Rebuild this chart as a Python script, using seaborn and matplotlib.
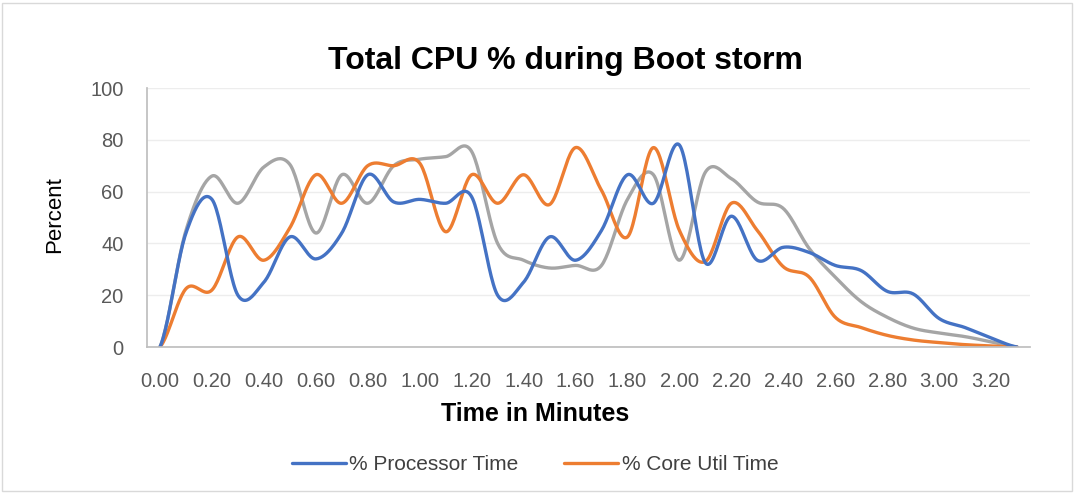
import numpy as np
import pandas as pd
import matplotlib
matplotlib.use("Agg")
import matplotlib.pyplot as plt
from matplotlib.lines import Line2D
from matplotlib.patches import Rectangle
import seaborn as sns

# ---- data ----
time_labels = ["0.00", "0.10", "0.20", "0.30", "0.40", "0.50", "0.60", "0.70", "0.80", "0.90",
               "1.00", "1.10", "1.20", "1.30", "1.40", "1.50", "1.60", "1.70", "1.80", "1.90",
               "2.00", "2.10", "2.20", "2.30", "2.40", "2.50", "2.60", "2.70", "2.80", "2.90",
               "3.00", "3.10", "3.20", "3.30"]
processor_time = [0, 44, 57, 20, 25, 42.5, 34, 44, 66.5, 56, 57, 55.5, 58, 20, 25, 42.5, 33.5,
                  45, 66.5, 55.5, 78, 32.5, 50.5, 33.5, 38.5, 36.5, 31.5, 29.5, 21.5, 20.5,
                  11, 7.5, 3.5, 0]
core_util_time = [0, 22.5, 22, 42.5, 33.5, 46, 66.5, 55.5, 70, 70, 71, 44.5, 66.5, 55.5, 66.5,
                  55, 77, 60.5, 42.5, 77, 45, 33, 55.5, 45, 31, 27, 11.5, 7.5, 4.5, 2.7, 1.7,
                  0.9, 0.4, 0]
third_series = [0, 45, 66, 55.5, 69.5, 70.5, 44, 66.5, 55.5, 70, 72.5, 73.5, 75.5, 40, 33.5,
                30.5, 31.5, 31.5, 57, 66.5, 33.5, 67.5, 65, 56, 53.5, 38, 27, 17.5, 11.5,
                7.3, 5.4, 4, 2, 0]
series_names = ["% Processor Time", "% Core Util Time", ""]
colors = ["#4472C4", "#ED7D31", "#A5A5A5"]
y_ticks = [0, 20, 40, 60, 80, 100]

title = "Total CPU % during Boot storm"
x_title = "Time in Minutes"
y_title = "Percent"


def smooth(values, n=24):
    """Catmull-Rom rendering of the data (like Excel's smoothed line)."""
    v = np.asarray(values, dtype=float)
    p = np.concatenate([[v[0]], v, [v[-1]]])
    xs, ys = [], []
    for i in range(len(v) - 1):
        p0, p1, p2, p3 = p[i], p[i + 1], p[i + 2], p[i + 3]
        t = np.linspace(0, 1, n, endpoint=False)
        y = 0.5 * ((2 * p1) + (-p0 + p2) * t + (2 * p0 - 5 * p1 + 4 * p2 - p3) * t ** 2
                   + (-p0 + 3 * p1 - 3 * p2 + p3) * t ** 3)
        xs.append(i + t)
        ys.append(y)
    xs.append([len(v) - 1])
    ys.append([v[-1]])
    return np.concatenate(xs), np.concatenate(ys)


frames = []
for name, vals in zip(["s0", "s1", "s2"], [processor_time, core_util_time, third_series]):
    sx, sy = smooth(vals)
    frames.append(pd.DataFrame({"x": sx, "y": sy, "series": name}))
df = pd.concat(frames, ignore_index=True)

sns.set_theme(style="white")
plt.rcParams["font.family"] = ["Liberation Sans", "DejaVu Sans"]

W, H = 1076, 494
fig = plt.figure(figsize=(W / 100, H / 100), dpi=100)
ax = fig.add_axes([147 / W, 1 - 347 / H, (1030 - 147) / W, (347 - 88) / H])

order = ["s2", "s1", "s0"]
pal = {"s0": colors[0], "s1": colors[1], "s2": colors[2]}
for s in order:
    sns.lineplot(data=df[df.series == s], x="x", y="y", color=pal[s], lw=2.4,
                 ax=ax, legend=False, sort=False)

ax.set_xlim(-0.5, len(time_labels) - 0.5)
ax.set_ylim(0, 100)
ax.set_yticks(y_ticks)
ax.set_yticklabels([str(t) for t in y_ticks])
xt = list(range(0, len(time_labels), 2))
ax.set_xticks(xt)
ax.set_xticklabels([time_labels[i] for i in xt])
ax.tick_params(axis="both", length=0, colors="#595959")
ax.tick_params(axis="y", labelsize=14.5, pad=17)
ax.tick_params(axis="x", labelsize=14.5, pad=18)
ax.yaxis.grid(True, color="#EDEDED", lw=1)
ax.set_axisbelow(True)
for side in ["top", "right"]:
    ax.spines[side].set_visible(False)
ax.spines["left"].set_color("#BFBFBF")
ax.spines["bottom"].set_color("#BFBFBF")
ax.set_xlabel("")
ax.set_ylabel("")

fig.text(565 / W, 1 - 61 / H, title, ha="center", va="center", fontsize=23,
         fontweight="bold", color="black")
fig.text(535 / W, 1 - 414 / H, x_title, ha="center", va="center", fontsize=18,
         fontweight="bold", color="black")
fig.text(55 / W, 1 - 215 / H, y_title, ha="center", va="center", fontsize=16,
         rotation=90, color="black")

handles = [Line2D([0], [0], color=colors[0], lw=2.4),
           Line2D([0], [0], color=colors[1], lw=2.4)]
fig.legend(handles, series_names[:2], loc="center", bbox_to_anchor=(535 / W, 1 - 465 / H),
           ncol=2, frameon=False, fontsize=15, handlelength=2.6, handletextpad=0.15,
           columnspacing=2.2, labelcolor="#404040")

fig.patches.append(Rectangle((2 / W, 3 / H), (W - 6) / W, (H - 6) / H, transform=fig.transFigure,
                             fill=False, edgecolor="#D9D9D9", lw=1))

fig.savefig("out.png", dpi=100)
